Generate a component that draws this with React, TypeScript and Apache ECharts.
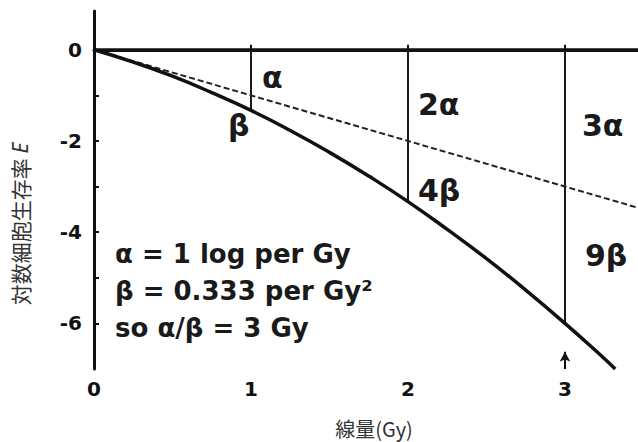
import React, { useEffect, useRef } from "react";
import * as echarts from "echarts";

// Linear-quadratic survival curve: dose (Gy) vs log cell survival E
const doses = [0, 0.25, 0.5, 0.75, 1, 1.25, 1.5, 1.75, 2, 2.25, 2.5, 2.75, 3, 3.25, 3.32];
const logSurvival = [0, -0.27, -0.58, -0.94, -1.33, -1.77, -2.25, -2.77, -3.33, -3.94, -4.58, -5.27, -6.0, -6.77, -7.0];

// Alpha-only (linear) component, dashed
const alphaDoses = [0, 3.5];
const alphaSurvival = [0, -3.5];

// Vertical drops at whole-gray doses
const dropDoses = [1, 2, 3];
const dropBottoms = [-1.33, -3.33, -6.0];

// Baseline at E = 0
const baselineDoses = [0, 3.5];
const baselineValues = [0, 0];

// Axis ranges and ticks
const xMin = 0;
const xMax = 3.465;
const yMin = -7;
const yMax = 0.85;
const xTickValues = [1, 2, 3];
const xLabelValues = [0, 1, 2, 3];
const yTickValues = [0, -1, -2, -3, -4, -5, -6];
const yLabelValues = [0, -2, -4, -6];

// Marker on the dose axis at 3 Gy
const markerDose = 3;
const markerTop = -6.62;

const BOLD = "bold 30px 'DejaVu Sans', sans-serif";
const BLOCK = "bold 26px 'DejaVu Sans', sans-serif";
const CJK_X = "20px 'Noto Sans CJK JP', sans-serif";
const CJK_Y = "21px 'Noto Sans CJK JP', sans-serif";

export default function App() {
  const ref = useRef<HTMLDivElement>(null);

  useEffect(() => {
    if (!ref.current) return;
    const chart = echarts.init(ref.current, undefined, { renderer: "svg" });

    const pair = (xs: number[], ys: number[]) => xs.map((x, i) => [x, ys[i]]);

    const dropSeries = dropDoses.map((d, i) => ({
      type: "line",
      data: [
        [d, 0],
        [d, dropBottoms[i]],
      ],
      showSymbol: false,
      symbol: "none",
      lineStyle: { color: "#1a1a1a", width: 2 },
      z: 3,
    }));

    const option: any = {
      animation: false,
      backgroundColor: "#ffffff",
      grid: { left: 94, right: 0, top: 11, bottom: 73 },
      xAxis: {
        type: "value",
        min: xMin,
        max: xMax,
        axisLine: { lineStyle: { color: "#111", width: 3 } },
        axisTick: {
          show: true,
          inside: true,
          length: 5,
          customValues: xTickValues,
          lineStyle: { color: "#111", width: 2 },
        },
        axisLabel: {
          customValues: xLabelValues,
          margin: 10,
          color: "#111",
          fontFamily: "DejaVu Sans",
          fontWeight: "bold",
          fontSize: 20,
        },
        splitLine: { show: false },
      },
      yAxis: {
        type: "value",
        min: yMin,
        max: yMax,
        axisLine: { lineStyle: { color: "#111", width: 3 } },
        axisTick: {
          show: true,
          inside: true,
          length: 5,
          customValues: yTickValues,
          lineStyle: { color: "#111", width: 2 },
        },
        axisLabel: {
          customValues: yLabelValues,
          margin: 12,
          color: "#111",
          fontFamily: "DejaVu Sans",
          fontWeight: "bold",
          fontSize: 20,
        },
        splitLine: { show: false },
      },
      series: [
        {
          type: "line",
          data: pair(baselineDoses, baselineValues),
          symbol: "none",
          lineStyle: { color: "#111", width: 3 },
          z: 2,
        },
        {
          type: "line",
          data: pair(alphaDoses, alphaSurvival),
          symbol: "none",
          lineStyle: { color: "#222", width: 2, type: [6, 3] },
          z: 4,
        },
        {
          type: "line",
          data: pair(doses, logSurvival),
          symbol: "none",
          smooth: true,
          lineStyle: { color: "#111", width: 3.5 },
          z: 5,
          markLine: {
            silent: true,
            animation: false,
            label: { show: false },
            lineStyle: { color: "#111", width: 2, type: "solid" },
            symbolSize: [8, 10],
            data: [
              [
                { coord: [markerDose, yMin], symbol: "none" },
                { coord: [markerDose, markerTop], symbol: "arrow" },
              ],
            ],
          },
        },
        ...dropSeries,
      ],
      graphic: [
        { type: "text", x: 262, y: 77, style: { text: "α", font: BOLD, fill: "#1a1a1a", textVerticalAlign: "middle" } },
        { type: "text", x: 228, y: 125, style: { text: "β", font: BOLD, fill: "#1a1a1a", textVerticalAlign: "middle" } },
        { type: "text", x: 418, y: 104, style: { text: "2α", font: BOLD, fill: "#1a1a1a", textVerticalAlign: "middle" } },
        { type: "text", x: 418, y: 190, style: { text: "4β", font: BOLD, fill: "#1a1a1a", textVerticalAlign: "middle" } },
        { type: "text", x: 582, y: 125, style: { text: "3α", font: BOLD, fill: "#1a1a1a", textVerticalAlign: "middle" } },
        { type: "text", x: 585, y: 255, style: { text: "9β", font: BOLD, fill: "#1a1a1a", textVerticalAlign: "middle" } },
        { type: "text", x: 115, y: 254, style: { text: "α = 1 log per Gy", font: BLOCK, fill: "#1a1a1a", textVerticalAlign: "middle" } },
        { type: "text", x: 115, y: 291, style: { text: "β = 0.333 per Gy²", font: BLOCK, fill: "#1a1a1a", textVerticalAlign: "middle" } },
        { type: "text", x: 115, y: 328, style: { text: "so α/β = 3 Gy", font: BLOCK, fill: "#1a1a1a", textVerticalAlign: "middle" } },
        {
          type: "text",
          x: 374,
          y: 428,
          style: { text: "線量(Gy)", font: CJK_X, fill: "#333", textAlign: "center", textVerticalAlign: "middle" },
        },
        {
          type: "text",
          x: 20,
          y: 224,
          rotation: Math.PI / 2,
          style: {
            text: "対数細胞生存率 {it|E}",
            font: CJK_Y,
            fill: "#333",
            textAlign: "center",
            textVerticalAlign: "middle",
            rich: {
              it: { fontStyle: "italic", fontFamily: "Noto Sans", fontSize: 21, fill: "#333" },
            },
          },
        },
      ],
    };

    chart.setOption(option);
    return () => chart.dispose();
  }, []);

  return (
    <div
      ref={ref}
      style={{ position: "absolute", left: 0, top: 0, width: 638, height: 442, background: "#fff" }}
    />
  );
}
